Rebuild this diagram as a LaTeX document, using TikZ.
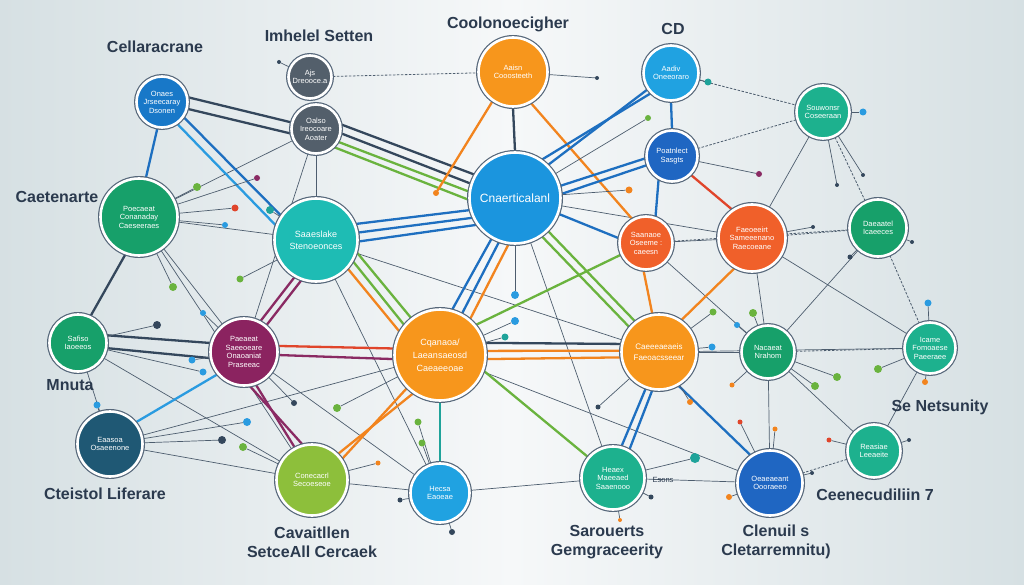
\documentclass[tikz,border=0pt]{standalone}
\usepackage{fontspec}
\setmainfont{Liberation Sans}
\usetikzlibrary{arrows.meta,positioning,calc,backgrounds}

\definecolor{navyT}{HTML}{2B3A4E}
\definecolor{ringc}{HTML}{56677A}
\definecolor{linec}{HTML}{4D5D6E}
\definecolor{bgEdge}{HTML}{D6E0E3}
\definecolor{bgMid}{HTML}{F6F8F9}
% hub fills
\definecolor{cBlue}{HTML}{1878C8}
\definecolor{cSlate}{HTML}{535F6B}
\definecolor{cOrange}{HTML}{F7961C}
\definecolor{cSky}{HTML}{20A2E1}
\definecolor{cTeal}{HTML}{1DB18E}
\definecolor{cRoyal}{HTML}{1F66C2}
\definecolor{cBig}{HTML}{1B95DE}
\definecolor{cGreen}{HTML}{17A06A}
\definecolor{cCyan}{HTML}{1EBCB4}
\definecolor{cRed}{HTML}{F0602A}
\definecolor{cPurple}{HTML}{8B2360}
\definecolor{cNavy}{HTML}{1F5874}
\definecolor{cLime}{HTML}{8DBF3B}
% wire colours
\definecolor{wBlue}{HTML}{1E6FC0}
\definecolor{wSky}{HTML}{2A9BE0}
\definecolor{wGreen}{HTML}{6AB33E}
\definecolor{wOrange}{HTML}{F2841E}
\definecolor{wRed}{HTML}{E0452B}
\definecolor{wPurple}{HTML}{8A2A63}
\definecolor{wNavy}{HTML}{34475C}
\definecolor{wTeal}{HTML}{1FA39A}

\begin{document}
\begin{tikzpicture}[x=1pt,y=-1pt,
  every node/.style={font=\fontsize{7.5}{8.5}\selectfont},
  hub/.style={circle,fill=#1,draw=white,line width=2.6pt,inner sep=0pt,align=center,text=white,
    preaction={draw=ringc,line width=5pt}},
  lbl/.style={font=\bfseries\fontsize{16}{19}\selectfont,text=navyT,align=center},
  wire/.style={line width=2.3pt,line cap=round,draw=#1},
  thinln/.style={line width=0.7pt,draw=linec},
  dashln/.style={line width=0.8pt,draw=linec,dash pattern=on 2.5pt off 1.5pt},
  dot/.style={circle,fill=#1,inner sep=0pt}]
\begin{scope}[on background layer]
  \shade[left color=bgEdge,right color=bgEdge,middle color=bgMid] (0,0) rectangle (1024,585);
\end{scope}
\useasboundingbox (0,0) rectangle (1024,585);

% hubs
\node[hub=cBlue,minimum size=51pt] (n1) at (162,102) {Onaes\\Jrseecaray\\Dsonen};
\node[hub=cSlate,minimum size=43pt] (n2) at (310,77) {Ajs\\Dreooce.a};
\node[hub=cSlate,minimum size=49pt] (n3) at (316,129) {Oalso\\Ireocoare\\Aoater};
\node[hub=cOrange,minimum size=69pt] (n4) at (513,72) {Aaisn\\Cooosteeth};
\node[hub=cSky,minimum size=55pt] (n5) at (671,73) {Aadiv\\Oneeoraro};
\node[hub=cTeal,minimum size=53pt] (n6) at (823,112) {Souwonsr\\Coseeraan};
\node[hub=cRoyal,minimum size=51pt] (n7) at (672,156) {Poatnlect\\Sasgts};
\node[hub=cBig,minimum size=91pt,font=\fontsize{12}{13}\selectfont] (n8) at (515,198) {Cnaerticalanl};
\node[hub=cGreen,minimum size=77pt] (n9) at (139,217) {Poecaeat\\Conanaday\\Caeseeraes};
\node[hub=cCyan,minimum size=83pt,font=\fontsize{9}{12}\selectfont] (n10) at (316,240) {Saaeslake\\Stenoeonces};
\node[hub=cRed,minimum size=53pt] (n11) at (646,243) {Saanaoe\\Oseeme :\\caeesn};
\node[hub=cRed,minimum size=67pt] (n12) at (752,238) {Faeoeeirt\\Sameeenano\\Raecoeane};
\node[hub=cGreen,minimum size=57pt] (n13) at (878,228) {Daeaatel\\Icaeeces};
\node[hub=cGreen,minimum size=57pt] (n14) at (78,343) {Safiso\\Iaoeeos};
\node[hub=cPurple,minimum size=67pt] (n15) at (244,352) {Paeaeat\\Saeeoeare\\Onaoaniat\\Praseeac};
\node[hub=cOrange,minimum size=91pt,font=\fontsize{9}{13}\selectfont] (n16) at (440,355) {Cqanaoa/\\Laeansaeosd\\Caeaeeoae};
\node[hub=cOrange,minimum size=75pt,font=\fontsize{8}{11}\selectfont] (n17) at (659,352) {Caeeeaeaeis\\Faeoacsseear};
\node[hub=cGreen,minimum size=53pt] (n18) at (768,352) {Nacaeat\\Nrahom};
\node[hub=cTeal,minimum size=51pt] (n19) at (930,348) {Icame\\Fomoaese\\Paeeraee};
\node[hub=cNavy,minimum size=65pt] (n20) at (110,444) {Eaasoa\\Osaeenone};
\node[hub=cLime,minimum size=71pt] (n21) at (312,480) {Conecacrl\\Secoeseoe};
\node[hub=cSky,minimum size=59pt] (n22) at (440,493) {Hecsa\\Eaoeae};
\node[hub=cTeal,minimum size=63pt] (n23) at (613,478) {Heaex\\Maeeaed\\Saaenooo};
\node[hub=cRoyal,minimum size=65pt] (n24) at (770,483) {Oeaeaeant\\Oooraeeo};
\node[hub=cTeal,minimum size=53pt] (n25) at (874,451) {Reasiae\\Leeaeite};

% labels
\node[lbl] (tCel) at (155,47) {Cellaracrane};
\node[lbl] (tImh) at (319,36) {Imhelel Setten};
\node[lbl] (tCoo) at (508,24) {Coolonoecigher};
\node[lbl] (tCD) at (673,29) {CD};
\node[lbl] (tCae) at (57,197) {Caetenarte};
\node[lbl] (tMnu) at (70,385) {Mnuta};
\node[lbl] (tSeN) at (940,407) {Se Netsunity};
\node[lbl] (tCte) at (105,494) {Cteistol Liferare};
\node[lbl] (tCee) at (875,495) {Ceenecudiliin 7};
\node[lbl] (tCav) at (312,542) {Cavaitllen\\SetceAll Cercaek};
\node[lbl] (tSar) at (607,542) {Sarouerts\\Gemgraceerity};
\node[lbl] (tCle) at (776,542) {Clenuil s\\Cletarremnitu)};
\node[text=navyT] (tEs) at (663,480) {Esons};

\begin{scope}[on background layer]
\node[dot=wOrange,minimum size=6pt] (o1) at (436,193) {};
% thin links
\foreach \a/\b in {n9/n10,n9/n3,n9/n15,n3/n10,n14/n20,n20/n21,n20/n16,n15/n22,n21/n22,
    n22/n23,n23/n24,n10/n22,n8/n12,n11/n12,n11/n18,n12/n18,n18/n24,n18/n25,n13/n18,
    n19/n25,n17/n18,n17/n19,n6/n12,n3/n15,n9/n21,n10/n17,n16/n24,n8/n23,n12/n19,n14/n21}
  \draw[thinln] (\a) -- (\b);
\foreach \a/\b in {n2/n4,n5/n6,n7/n6,n6/n13,n12/n13,n13/n19,n24/n25,n18/n19,n11/n13}
  \draw[dashln] (\a) -- (\b);
% coloured wires
\foreach \a/\b/\c in {n1.325/n10.145/wBlue,n1.305/n10.160/wSky,n1.260/n9.80/wBlue,
    n1.10/n3.165/wNavy,n1.345/n3.190/wNavy,n3.10/n8.150/wNavy,n3.350/n8.162/wNavy,
    n3.330/n8.172/wGreen,n3.315/n8.182/wGreen,n4.270/n8.90/wNavy,n4.235/o1/wOrange,
    n4.300/n11.120/wOrange,n5.215/n8.45/wBlue,n5.225/n8.55/wBlue,n5.270/n7.90/wBlue,
    n7.185/n8.15/wBlue,n7.200/n8.5/wBlue,n7.240/n11.70/wBlue,n7.315/n12.125/wRed,
    n8.195/n10.22/wBlue,n8.205/n10.10/wBlue,n8.215/n10.358/wBlue,n8.240/n16.75/wBlue,
    n8.250/n16.62/wBlue,n8.262/n16.50/wOrange,n8.305/n17.140/wGreen,n8.315/n17.128/wGreen,
    n8.340/n11.170/wBlue,n10.240/n15.62/wPurple,n10.250/n15.50/wPurple,
    n10.330/n16.140/wGreen,n10.318/n16.150/wOrange,n10.343/n16.128/wGreen,
    n15.10/n16.172/wRed,n15.355/n16.185/wPurple,n15.290/n21.118/wPurple,n15.280/n21.105/wPurple,
    n16.235/n21.45/wOrange,n16.225/n21.35/wOrange,n16.270/n22.90/wTeal,
    n16.15/n17.168/wNavy,n16.5/n17.178/wOrange,n16.355/n17.188/wOrange,
    n16.340/n23.140/wGreen,n16.40/n11.205/wGreen,n17.260/n23.60/wBlue,n17.250/n23.75/wBlue,
    n17.300/n24.125/wBlue,n11.265/n17.100/wOrange,n12.240/n17.55/wOrange,
    n14.15/n15.165/wNavy,n14.350/n15.190/wNavy,n9.250/n14.65/wNavy,n20.40/n15.220/wSky}
  \draw[wire=\c] (\a) -- (\b);
% small dots
\foreach \x/\y/\c/\s/\h [count=\i] in {279/62/wNavy/4/n2,597/78/wNavy/4/n4,708/82/wTeal/7/n5,
    863/112/wSky/7/n6,648/118/wGreen/6/n8,759/174/wPurple/6/n7,629/190/wOrange/7/n8,
    235/208/wRed/7/n9,270/210/wTeal/8/n10,257/178/wPurple/6/n9,197/187/wGreen/8/n9,
    225/225/wSky/6/n9,173/287/wGreen/8/n9,240/279/wGreen/7/n10,157/325/wNavy/8/n14,
    203/313/wSky/6/n15,192/360/wSky/7/n15,203/372/wSky/7/n14,97/405/wSky/7/n20,
    294/403/wNavy/6/n15,247/422/wSky/8/n20,222/440/wNavy/8/n20,243/447/wGreen/8/n21,
    337/408/wGreen/8/n16,418/422/wGreen/7/n22,422/443/wGreen/7/n22,378/463/wOrange/5/n21,
    400/500/wNavy/5/n22,452/532/wNavy/6/n22,598/407/wNavy/5/n17,690/402/wOrange/6/n17,
    740/422/wRed/5/n24,775/429/wOrange/5/n24,695/458/wTeal/10/n23,829/440/wRed/5/n25,
    651/497/wNavy/5/n23,729/497/wOrange/6/n24,620/520/wOrange/4/n23,812/473/wNavy/4/n24,
    909/440/wNavy/4/n25,713/312/wGreen/7/n17,753/313/wGreen/8/n18,737/325/wSky/6/n18,
    712/347/wSky/7/n17,837/377/wGreen/8/n18,878/369/wGreen/8/n19,815/386/wGreen/8/n18,
    732/385/wOrange/5/n18,925/382/wOrange/6/n19,928/303/wSky/7/n19,863/175/wNavy/4/n6,
    837/185/wNavy/4/n6,912/242/wNavy/4/n13,813/227/wNavy/4/n12,850/257/wNavy/5/n13,
    515/321/wSky/8/n16,505/337/wTeal/7/n16,515/295/wSky/8/n8}
  {\node[dot=\c,minimum size=\s pt] (d\i) at (\x,\y) {};
   \draw[thinln] (\h) -- (d\i);}
\end{scope}
\end{tikzpicture}
\end{document}
